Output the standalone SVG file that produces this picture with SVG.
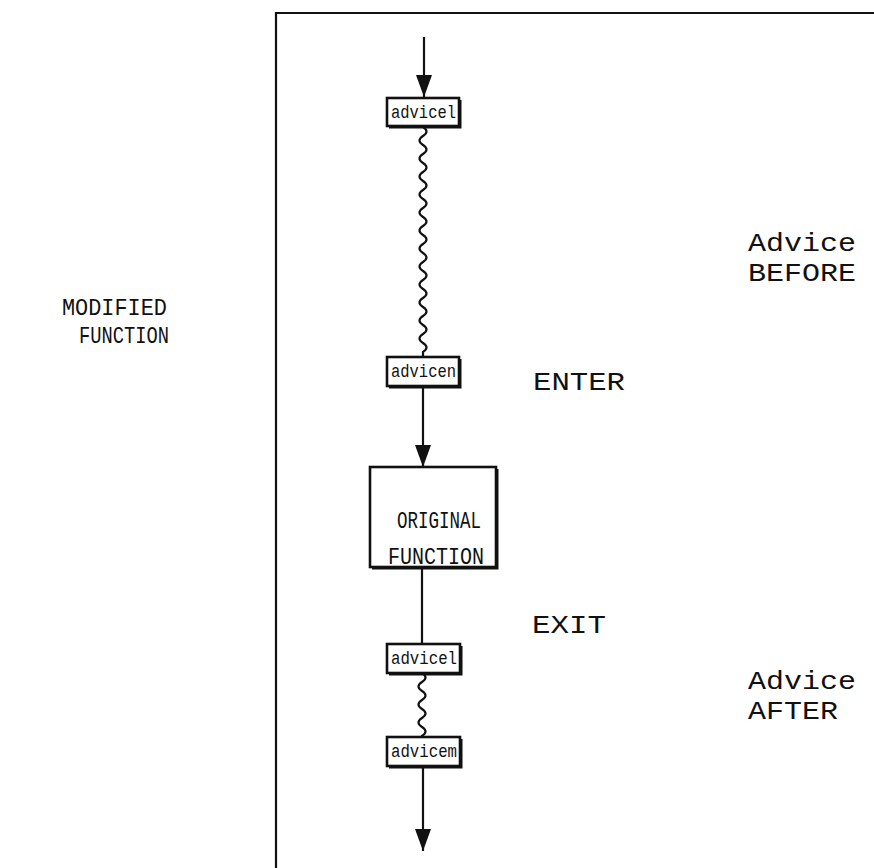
<svg xmlns="http://www.w3.org/2000/svg" width="874" height="868" viewBox="0 0 874 868">
<style>
.t{font-family:"Liberation Mono","DejaVu Sans Mono",monospace;fill:#111;}
.lbl{font-size:26px;}
.ml{font-size:23px;}
.ol{font-size:24px;}
.box{fill:#fff;stroke:#111;stroke-width:2.6;}
.sh{fill:none;stroke:#111;stroke-width:2;}
.ln{fill:none;stroke:#111;stroke-width:2.2;}
.bt{font-size:18px;}
</style>
<defs>
<marker id="ah" markerWidth="22" markerHeight="16" refX="22" refY="8" orient="auto" markerUnits="userSpaceOnUse" viewBox="0 0 22 16">
<path d="M0,0 L22,8 L0,16 Z" fill="#111"/>
</marker>
</defs>
<rect width="874" height="868" fill="#fff"/>
<g id="frame">
<path d="M276,868 L276,13 L874,13" fill="none" stroke="#111" stroke-width="2.2"/>
</g>
<g id="connectors">
<line class="ln" x1="424" y1="37" x2="424" y2="97" marker-end="url(#ah)"/>
<path class="ln" d="M423,127 q7,4.5 0,9 q-7,4.5 0,9 q7,4.5 0,9 q-7,4.5 0,9 q7,4.5 0,9 q-7,4.5 0,9 q7,4.5 0,9 q-7,4.5 0,9 q7,4.5 0,9 q-7,4.5 0,9 q7,4.5 0,9 q-7,4.5 0,9 q7,4.5 0,9 q-7,4.5 0,9 q7,4.5 0,9 q-7,4.5 0,9 q7,4.5 0,9 q-7,4.5 0,9 q7,4.5 0,9 q-7,4.5 0,9 q7,4.5 0,9 q-7,4.5 0,9 q7,4.5 0,9 q-7,4.5 0,9 q7,4.5 0,9 L423,357"/>
<line class="ln" x1="423" y1="387" x2="423" y2="467" marker-end="url(#ah)"/>
<line class="ln" x1="422" y1="567" x2="422" y2="644"/>
<path class="ln" d="M422,673 q7,4.5 0,9 q-7,4.5 0,9 q7,4.5 0,9 q-7,4.5 0,9 q7,4.5 0,9 q-7,4.5 0,9 q7,4.5 0,9 L422,737"/>
<line class="ln" x1="423" y1="766" x2="423" y2="851" marker-end="url(#ah)"/>
</g>
<g id="advicel-1">
<rect class="box" x="387" y="98" width="72" height="28"/>
<path class="sh" d="M389,127.5 H460.5 V100"/>
<text class="t bt" x="391" y="118" textLength="65" lengthAdjust="spacingAndGlyphs">advicel</text>
</g>
<g id="advicen">
<rect class="box" x="387" y="357" width="72" height="29"/>
<path class="sh" d="M389,387.5 H460.5 V359"/>
<text class="t bt" x="391" y="377" textLength="65" lengthAdjust="spacingAndGlyphs">advicen</text>
</g>
<g id="original">
<rect class="box" x="370" y="467" width="126" height="100"/>
<path class="sh" d="M372,568.5 H497.5 V469"/>
<text class="t ol" x="397" y="528" textLength="84" lengthAdjust="spacingAndGlyphs">ORIGINAL</text>
<text class="t ol" x="388" y="564" textLength="96" lengthAdjust="spacingAndGlyphs">FUNCTION</text>
</g>
<g id="advicel-2">
<rect class="box" x="387" y="644" width="73" height="29"/>
<path class="sh" d="M389,674.5 H461.5 V646"/>
<text class="t bt" x="391" y="664" textLength="66" lengthAdjust="spacingAndGlyphs">advicel</text>
</g>
<g id="advicem">
<rect class="box" x="387" y="737" width="73" height="29"/>
<path class="sh" d="M389,767.5 H461.5 V739"/>
<text class="t bt" x="391" y="757" textLength="66" lengthAdjust="spacingAndGlyphs">advicem</text>
</g>
<g id="labels">
<text class="t lbl" x="533" y="390" textLength="92" lengthAdjust="spacingAndGlyphs">ENTER</text>
<text class="t lbl" x="532" y="633" textLength="74" lengthAdjust="spacingAndGlyphs">EXIT</text>
<text class="t lbl" x="748" y="251" textLength="108" lengthAdjust="spacingAndGlyphs">Advice</text>
<text class="t lbl" x="748" y="281" textLength="108" lengthAdjust="spacingAndGlyphs">BEFORE</text>
<text class="t lbl" x="748" y="689" textLength="108" lengthAdjust="spacingAndGlyphs">Advice</text>
<text class="t lbl" x="748" y="719" textLength="90" lengthAdjust="spacingAndGlyphs">AFTER</text>
<text class="t ml" x="62" y="315" textLength="105" lengthAdjust="spacingAndGlyphs">MODIFIED</text>
<text class="t ml" x="79" y="343" textLength="90" lengthAdjust="spacingAndGlyphs">FUNCTION</text>
</g>
</svg>
